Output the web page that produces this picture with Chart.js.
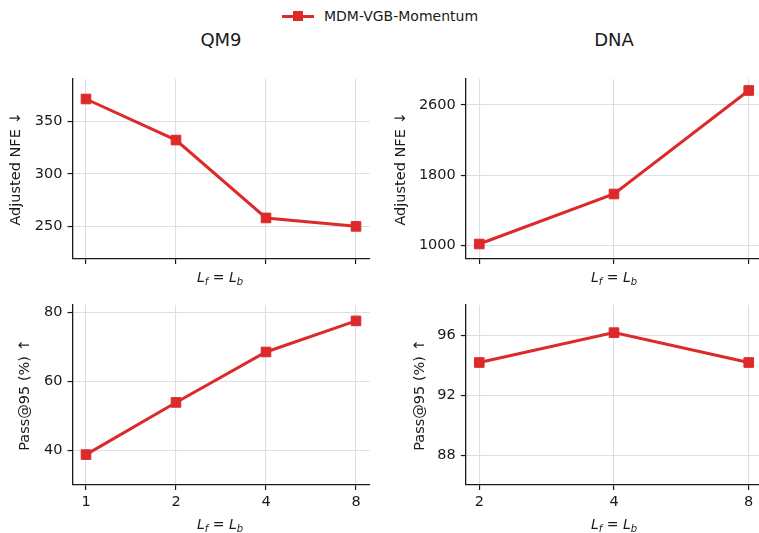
<!DOCTYPE html>
<html>
<head>
<meta charset="utf-8">
<script src="https://cdn.jsdelivr.net/npm/chart.js@4.4.1/dist/chart.umd.min.js"></script>
<style>
  html, body { margin: 0; padding: 0; background: #fff; }
  body { width: 759px; height: 533px; position: relative; overflow: hidden; font-family: "DejaVu Sans", sans-serif; color: #1a1a1a; }
  .box { position: absolute; }
  .lbl { position: absolute; transform: translate(-50%, -50%); white-space: nowrap; }
  .ttl { font-size: 18px; }
  .math { font-size: 14px; font-style: italic; }
  .math sub { font-size: 10px; vertical-align: -3px; }
  #legend { position: absolute; left: 282px; top: 8px; height: 16px; font-size: 14px; }
  #legend .ln { position: absolute; left: 0; top: 6.5px; width: 32px; height: 3px; background: #dc2a2a; }
  #legend .sq { position: absolute; left: 11px; top: 3px; width: 10px; height: 10px; background: #dc2a2a; }
  #legend .tx { position: absolute; left: 42px; top: 0; line-height: 16px; white-space: nowrap; }
</style>
</head>
<body>
<div id="legend"><div class="ln"></div><div class="sq"></div><div class="tx">MDM-VGB-Momentum</div></div>
<div class="lbl ttl" style="left:221px; top:39px;">QM9</div>
<div class="lbl ttl" style="left:614px; top:39px;">DNA</div>

<div class="box" style="left:0; top:60px; width:380px; height:235px;"><canvas id="c1"></canvas></div>
<div class="box" style="left:380px; top:60px; width:390px; height:235px;"><canvas id="c2"></canvas></div>
<div class="box" style="left:0; top:290px; width:380px; height:243px;"><canvas id="c3"></canvas></div>
<div class="box" style="left:380px; top:290px; width:390px; height:243px;"><canvas id="c4"></canvas></div>

<div class="lbl math" style="left:220px; top:278px;"><span>L</span><sub>f</sub> = <span>L</span><sub>b</sub></div>
<div class="lbl math" style="left:614px; top:278px;"><span>L</span><sub>f</sub> = <span>L</span><sub>b</sub></div>
<div class="lbl math" style="left:220px; top:525px;"><span>L</span><sub>f</sub> = <span>L</span><sub>b</sub></div>
<div class="lbl math" style="left:614px; top:525px;"><span>L</span><sub>f</sub> = <span>L</span><sub>b</sub></div>

<script>
// data
var qm9Steps = ['1', '2', '4', '8'];
var dnaSteps = ['2', '4', '8'];
var qm9Nfe = [371, 332, 258, 250];
var dnaNfe = [1015, 1585, 2765];
var qm9Pass = [38.8, 53.9, 68.5, 77.5];
var dnaPass = [94.2, 96.2, 94.2];

var qm9NfeTicks = [250, 300, 350];
var dnaNfeTicks = [1000, 1800, 2600];
var qm9PassTicks = [40, 60, 80];
var dnaPassTicks = [88, 92, 96];

var RED = '#dc2a2a';
var GRID = '#dcdfe8';
var INK = '#1a1a1a';

function makeChart(id, steps, values, yTicks, yMin, yMax, yTitle, opts) {
    var ctx = document.getElementById(id).getContext('2d');
    var pad = 0.05 * (steps.length - 1);
    return new Chart(ctx, {
        type: 'line',
        data: {
            datasets: [{
                label: 'MDM-VGB-Momentum',
                data: values.map((v, i) => ({ x: i, y: v })),
                borderColor: RED,
                backgroundColor: RED,
                borderWidth: 3,
                pointStyle: 'rect',
                pointRadius: 6.8,
                pointBorderWidth: 1,
                pointBorderColor: RED,
                tension: 0,
                clip: false
            }]
        },
        options: {
            responsive: true,
            maintainAspectRatio: false,
            animation: false,
            layout: { padding: { top: opts.padTop, right: opts.padRight, left: 0, bottom: 0 } },
            plugins: { legend: { display: false }, tooltip: { enabled: false } },
            scales: {
                x: {
                    type: 'linear',
                    min: -pad,
                    max: steps.length - 1 + pad,
                    afterBuildTicks: s => { s.ticks = steps.map((t, i) => ({ value: i })); },
                    afterFit: s => { s.height = opts.xHeight; },
                    ticks: {
                        callback: v => opts.showX ? steps[v] : '',
                        color: INK,
                        font: { family: 'DejaVu Sans', size: 14.5 },
                        padding: 4,
                        maxRotation: 0
                    },
                    grid: { color: GRID, lineWidth: 1.1, tickColor: INK, tickLength: 5, tickWidth: 1.2 },
                    border: { display: true, color: INK, width: 1.3 }
                },
                y: {
                    min: yMin,
                    max: yMax,
                    afterBuildTicks: s => { s.ticks = yTicks.map(v => ({ value: v })); },
                    afterFit: s => { s.width = opts.yWidth; },
                    ticks: {
                        callback: v => String(v),
                        color: INK,
                        font: { family: 'DejaVu Sans', size: 14.5 },
                        padding: 5
                    },
                    grid: { color: GRID, lineWidth: 1.1, tickColor: INK, tickLength: 5, tickWidth: 1.2 },
                    border: { display: true, color: INK, width: 1.3 },
                    title: {
                        display: true,
                        text: yTitle,
                        color: INK,
                        font: { family: 'DejaVu Sans', size: 14.5 },
                        padding: { top: opts.titlePad, bottom: 0 }
                    }
                }
            }
        }
    });
}

makeChart('c1', qm9Steps, qm9Nfe, qm9NfeTicks, 219, 390, 'Adjusted NFE \u2193',
    { padTop: 19, padRight: 10.5, xHeight: 36, yWidth: 72.5, showX: false, titlePad: 8 });
makeChart('c2', dnaSteps, dnaNfe, dnaNfeTicks, 844, 2896, 'Adjusted NFE \u2193',
    { padTop: 19, padRight: 6.8, xHeight: 36, yWidth: 85.8, showX: false, titlePad: 13 });
makeChart('c3', qm9Steps, qm9Pass, qm9PassTicks, 30, 82.1, 'Pass@95 (%) \u2191',
    { padTop: 15, padRight: 10.5, xHeight: 48, yWidth: 72.5, showX: true, titlePad: 17 });
makeChart('c4', dnaSteps, dnaPass, dnaPassTicks, 86, 98.05, 'Pass@95 (%) \u2191',
    { padTop: 15, padRight: 6.8, xHeight: 48, yWidth: 85.8, showX: true, titlePad: 32 });
</script>
</body>
</html>
